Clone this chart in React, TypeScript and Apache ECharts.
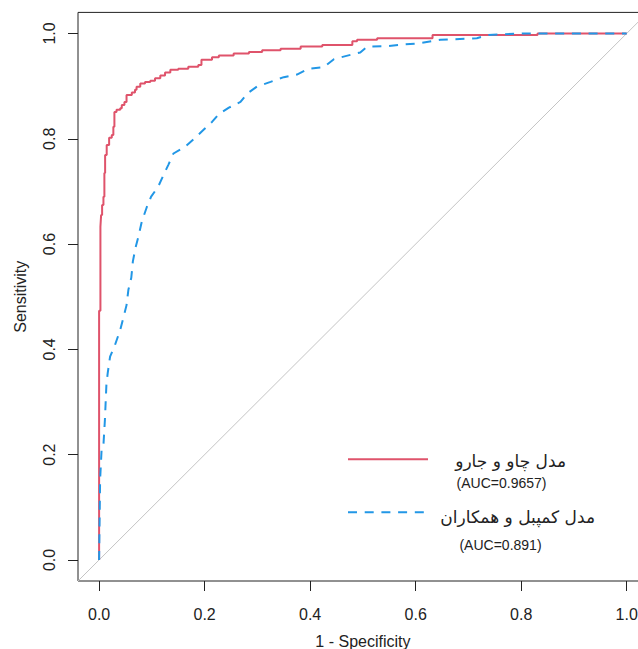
import React, { useEffect, useRef } from "react";
import * as echarts from "echarts";

const tickValues = [0, 0.2, 0.4, 0.6, 0.8, 1.0];

const redFpr = [0, 0, 0.0025, 0.0038, 0.0057, 0.0082, 0.010, 0.0114, 0.0144, 0.019, 0.024, 0.027, 0.029, 0.033, 0.040, 0.043, 0.048, 0.052, 0.062, 0.068, 0.071, 0.078, 0.087, 0.097, 0.106, 0.116, 0.125, 0.135, 0.150, 0.169, 0.188, 0.194, 0.214, 0.227, 0.255, 0.284, 0.309, 0.344, 0.382, 0.423, 0.480, 0.489, 0.527, 0.632, 0.831, 1];
const redSens = [0, 0.4735, 0.633, 0.655, 0.674, 0.690, 0.735, 0.769, 0.788, 0.802, 0.807, 0.823, 0.851, 0.855, 0.858, 0.864, 0.870, 0.883, 0.888, 0.893, 0.899, 0.905, 0.908, 0.910, 0.915, 0.920, 0.926, 0.931, 0.933, 0.937, 0.940, 0.950, 0.955, 0.958, 0.962, 0.965, 0.968, 0.971, 0.975, 0.978, 0.985, 0.988, 0.991, 0.997, 1.0, 1.0];

const blueFpr = [0, 0.0019, 0.0049, 0.0082, 0.011, 0.0138, 0.0163, 0.0208, 0.030, 0.040, 0.046, 0.052, 0.0555, 0.061, 0.064, 0.069, 0.0745, 0.081, 0.090, 0.0986, 0.112, 0.122, 0.131, 0.141, 0.163, 0.179, 0.198, 0.214, 0.227, 0.246, 0.268, 0.281, 0.299, 0.325, 0.350, 0.375, 0.397, 0.426, 0.445, 0.467, 0.495, 0.508, 0.546, 0.577, 0.603, 0.647, 0.716, 0.738, 0.802, 1];
const blueSens = [0, 0.152, 0.213, 0.218, 0.266, 0.332, 0.355, 0.386, 0.408, 0.437, 0.460, 0.484, 0.513, 0.536, 0.567, 0.593, 0.614, 0.643, 0.669, 0.690, 0.709, 0.731, 0.750, 0.772, 0.785, 0.799, 0.817, 0.832, 0.847, 0.859, 0.870, 0.886, 0.899, 0.908, 0.917, 0.922, 0.933, 0.936, 0.951, 0.957, 0.964, 0.975, 0.976, 0.979, 0.981, 0.988, 0.991, 0.997, 1.0, 1.0];

const diagonal = [-0.04, 1.04];

const seriesNames = ["مدل چاو و جارو", "مدل کمپبل و همکاران"];
const aucLabels = ["(AUC=0.9657)", "(AUC=0.891)"];
const xTitle = "1 - Specificity";
const yTitle = "Sensitivity";

const RED = "#DF536B";
const BLUE = "#2297E6";
const INK = "#222222";
const LATIN = "'Liberation Sans', Arial, sans-serif";
const PERSIAN = "'DejaVu Sans', 'Noto Sans', sans-serif";

export default function App() {
  const ref = useRef<HTMLDivElement>(null);
  useEffect(() => {
    if (!ref.current) return;
    const chart = echarts.init(ref.current, undefined, { renderer: "svg" });
    const axisCommon = {
      type: "value" as const,
      min: -0.04,
      max: 1.04,
      splitLine: { show: false },
      axisLine: { show: false, onZero: false },
      axisTick: { show: true, length: 10, inside: false, customValues: tickValues, lineStyle: { color: INK, width: 1 } },
      nameLocation: "middle" as const,
      nameTextStyle: { fontFamily: LATIN, fontSize: 16, color: INK },
    };
    chart.setOption({
      animation: false,
      backgroundColor: "#ffffff",
      grid: {
        left: 78,
        top: 12.4,
        width: 569.8,
        height: 568.6,
        containLabel: false,
        outerBoundsMode: "none",
        show: true,
        borderColor: INK,
        borderWidth: 1,
        backgroundColor: "transparent",
      },
      xAxis: {
        ...axisCommon,
        position: "bottom",
        name: xTitle,
        nameGap: 52,
        axisLabel: {
          customValues: tickValues,
          formatter: (v: number) => v.toFixed(1),
          margin: 25,
          fontFamily: LATIN,
          fontSize: 16,
          color: INK,
        },
      },
      yAxis: {
        ...axisCommon,
        position: "left",
        name: yTitle,
        nameGap: 50,
        axisLabel: {
          customValues: tickValues,
          formatter: (v: number) => v.toFixed(1),
          rotate: 90,
          margin: 21,
          fontFamily: LATIN,
          fontSize: 16,
          color: INK,
        },
      },
      series: [
        {
          type: "line",
          data: diagonal.map((v) => [v, v]),
          symbol: "none",
          silent: true,
          lineStyle: { color: "#C4C4C4", width: 1 },
          z: 1,
        },
        {
          type: "line",
          name: seriesNames[0],
          step: "end",
          data: redFpr.map((x, i) => [x, redSens[i]]),
          symbol: "none",
          lineStyle: { color: RED, width: 2 },
          z: 2,
        },
        {
          type: "line",
          name: seriesNames[1],
          data: blueFpr.map((x, i) => [x, blueSens[i]]),
          symbol: "none",
          lineStyle: { color: BLUE, width: 2, type: [9, 7.7] },
          z: 3,
        },
      ],
      graphic: [
        { type: "line", shape: { x1: 348, y1: 459.3, x2: 428, y2: 459.3 }, style: { stroke: RED, lineWidth: 2 } },
        { type: "text", x: 566, y: 461, style: { text: seriesNames[0], textAlign: "right", textVerticalAlign: "middle", font: `17px ${PERSIAN}`, fill: INK } },
        { type: "text", x: 501.5, y: 483, style: { text: aucLabels[0], textAlign: "center", textVerticalAlign: "middle", font: `14px ${LATIN}`, fill: INK } },
        { type: "line", shape: { x1: 348, y1: 512.3, x2: 428, y2: 512.3 }, style: { stroke: BLUE, lineWidth: 2, lineDash: [9, 7.7] } },
        { type: "text", x: 595, y: 517, style: { text: seriesNames[1], textAlign: "right", textVerticalAlign: "middle", font: `17px ${PERSIAN}`, fill: INK } },
        { type: "text", x: 500.5, y: 545, style: { text: aucLabels[1], textAlign: "center", textVerticalAlign: "middle", font: `14px ${LATIN}`, fill: INK } },
      ],
    });
    return () => chart.dispose();
  }, []);
  return <div ref={ref} style={{ position: "fixed", left: 0, top: 0, width: 638, height: 649 }} />;
}
